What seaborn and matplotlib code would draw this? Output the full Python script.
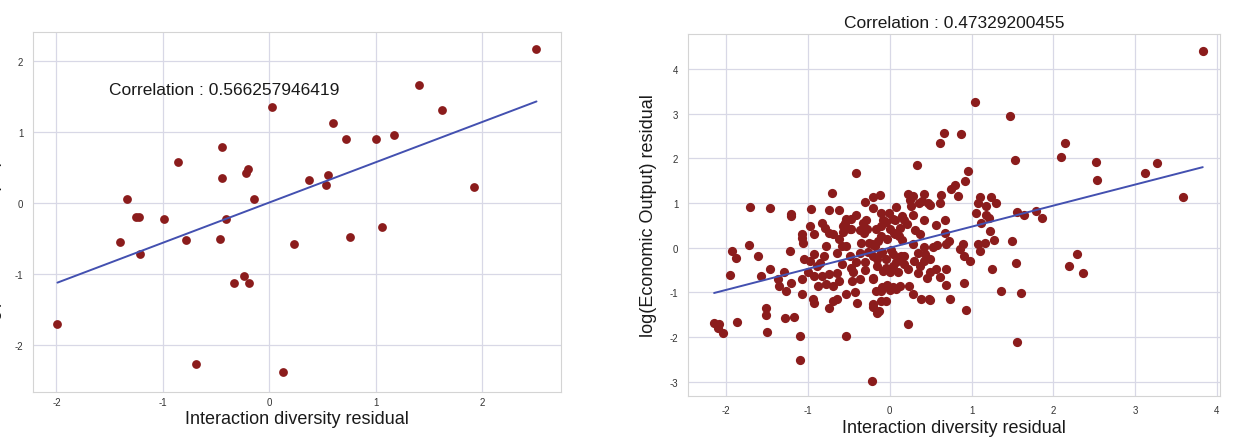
import matplotlib
matplotlib.use("Agg")
import matplotlib.pyplot as plt
import seaborn as sns
import numpy as np

# ------------------------------------------
# data
# ------------------------------------------
# left panel (36 points)
left_x = [2.51, 1.41, 1.62, 0.03, 0.60, 0.72, 1.00, 1.17, -0.44, -0.86,
          -0.44, -0.20, -0.22, 0.37, 0.55, 0.53, 1.92, -1.34, -0.14, -1.25,
          -1.22, -0.99, -0.41, -1.40, -0.78, -0.46, -1.21, 0.23, 0.76, 1.06,
          -0.24, -0.33, -0.19, -1.99, -0.69, 0.13]
left_y = [2.17, 1.66, 1.31, 1.35, 1.13, 0.90, 0.90, 0.96, 0.79, 0.58,
          0.35, 0.48, 0.42, 0.33, 0.39, 0.26, 0.23, 0.06, 0.06, -0.20,
          -0.20, -0.23, -0.23, -0.54, -0.52, -0.51, -0.71, -0.58, -0.48, -0.33,
          -1.02, -1.12, -1.12, -1.70, -2.26, -2.38]

# right panel
right_x = [3.83, 1.04, 1.47, 0.66, 0.61, 0.87, 2.15, 2.09, 1.53, 2.52,
           3.27, 3.12, 2.53, 3.59, 0.33, -0.41, 0.96, 0.92, 0.80, 0.75,
           0.84, 1.79, 1.86, 1.64, 1.56, 1.50, 1.55, 1.61, 1.36, 1.25,
           1.56, 2.29, 2.19, 2.36, 1.27, 1.23, 1.10, 1.24, 1.30, 1.18,
           1.08, 1.06, 1.18, 1.12, 1.21, 1.08, 1.16, 1.10, 0.91, 0.98,
           0.91, 0.93, 0.89, 0.86, 0.73, 0.69, 0.67, 0.67, 0.57, 0.69,
           0.57, 0.61, 0.69, 0.74, 0.63, 0.61, 0.49, 0.53, 0.58, 0.49,
           0.49, 0.49, 0.42, 0.39, 0.28, 0.22, 0.25, 0.26, 0.08, 0.15,
           0.42, 0.28, 0.21, 0.11, 0.37, 0.28, 0.42, 0.35, 0.18, 0.30,
           0.42, 0.17, 0.37, 0.22, 0.35, 0.45, 0.24, 0.28, 0.38, 0.48,
           0.07, 0.22, 0.04, 0.08, 0.36, 0.47, 0.12, 0.31, 0.15, 0.05,
           -0.20, -0.12, -0.30, -0.21, -0.11, -0.01, 0.04, -0.05, -0.11, 0.00,
           0.06, -0.03, -0.11, -0.17, -0.18, -0.11, -0.05, 0.04, -0.21, -0.16,
           -0.08, -0.21, -0.03, -0.11, -0.21, -0.13, -0.11, -0.05, -0.22, -0.29,
           -0.41, -0.48, -0.28, -0.22, -0.30, -0.37, -0.41, -0.45, -0.37, -0.46,
           -0.42, -0.40, -0.54, -0.49, -0.37, -0.32, -0.47, -0.27, -0.16, -0.10,
           0.02, 0.12, -0.15, -0.35, -0.25, -0.05, 0.10, -0.20, -0.10, 0.00,
           -0.17, -0.20, -0.16, 0.06, -0.08, -0.47, -0.30, -0.59, -0.53, -0.57,
           -0.49, -0.57, -0.54, -0.62, -0.74, -0.71, -0.83, -0.79, -0.75, -0.69,
           -0.78, -0.81, -0.65, -0.59, -0.64, -0.62, -0.69, -0.74, -0.83, -0.78,
           -0.88, -0.69, -0.74, -0.65, -0.53, -0.89, -0.93, -0.98, -0.93, -0.93,
           -0.98, -0.96, -0.55, -1.07, -1.06, -1.08, -0.94, -0.93, -1.07, -1.10,
           -1.10, -1.05, -1.00, -1.07, -1.21, -1.22, -1.29, -1.37, -1.36, -1.27,
           -1.21, -1.28, -1.17, -1.46, -1.47, -1.57, -1.52, -1.52, -1.50, -1.71,
           -1.72, -1.61, -1.87, -1.93, -1.88, -1.96, -2.15, -2.09, -2.04, -2.10,
           -1.21, 0.14, 0.43, 0.00, 0.04, 0.12, -0.62, -0.85, 0.18, -0.33]
right_y = [4.39, 3.25, 2.95, 2.57, 2.35, 2.54, 2.33, 2.02, 1.96, 1.92,
           1.89, 1.66, 1.51, 1.13, 1.85, 1.68, 1.71, 1.50, 1.40, 1.31,
           1.16, 0.81, 0.66, 0.72, 0.80, 0.14, -0.34, -1.02, -0.97, -0.47,
           -2.10, -0.15, -0.40, -0.57, 0.18, 0.38, 1.14, 1.14, 0.99, 0.93,
           0.99, 0.78, 0.73, 0.56, 0.66, 0.08, 0.10, -0.08, -0.18, -0.29,
           -0.78, -1.40, 0.09, -0.02, 0.16, 0.09, 0.33, 0.61, 0.51, -0.47,
           -0.47, -0.65, -0.83, -1.14, 1.17, 1.00, 0.96, 0.02, 0.05, -0.26,
           -0.55, -1.16, 1.19, 1.04, 1.16, 1.19, 1.07, 0.93, 0.90, 0.71,
           0.62, 0.73, 0.52, 0.26, 0.30, 0.08, 0.02, -0.11, -0.18, -0.30,
           -0.30, -0.37, -0.41, -0.48, -0.56, -0.67, -0.86, -1.04, -1.14, -1.14,
           -0.93, -1.71, -0.41, -0.33, 0.99, 1.00, 0.45, 0.40, 0.17, 0.32,
           1.13, 1.18, 1.02, 0.89, 0.78, 0.78, 0.65, 0.57, 0.49, 0.41,
           0.30, 0.19, 0.26, 0.41, 0.04, -0.11, -0.26, -0.15, -0.18, -0.41,
           -0.52, -0.67, -0.84, -1.19, -1.26, -1.41, -0.97, -1.19, -2.98, 0.63,
           0.72, 0.65, 0.41, 0.08, -0.33, -0.11, -0.33, -0.54, -0.69, -0.74,
           -1.00, -1.23, -1.04, -0.18, 0.39, 0.32, 0.42, -0.10, -0.25, -0.10,
           -0.05, -0.20, 0.15, 0.10, 0.10, -0.45, -0.55, -0.70, -0.87, -0.95,
           -0.98, -1.32, -1.45, 0.62, 0.62, -0.45, -0.50, 0.04, 0.04, 0.34,
           0.41, 0.49, 0.65, 0.84, 0.84, 1.22, 0.56, 0.43, 0.33, 0.30,
           0.04, -0.18, -0.11, -0.37, -0.56, -0.74, -0.86, -0.59, -0.63, -0.82,
           -0.86, -1.19, -1.34, -1.15, -1.97, -0.41, -0.63, -0.30, -0.15, 0.30,
           0.49, 0.87, 0.56, 0.30, 0.11, 0.22, -1.15, -1.24, -1.04, -1.97,
           -2.52, -0.26, -0.54, -0.71, 0.75, -0.07, -0.54, -0.69, -0.86, -0.97,
           -0.78, -1.58, -1.55, 0.89, -0.47, -0.63, -1.34, -1.51, -1.88, 0.92,
           0.06, -0.19, -1.66, -0.07, -0.22, -0.62, -1.69, -1.71, -1.90, -1.79,
           0.70, -0.18, -0.14, -0.55, -0.88, -0.85, 0.20, -0.35, 0.62, 0.55]

left_corr = "Correlation : 0.566257946419"
right_corr = "Correlation : 0.47329200455"
xlabel = "Interaction diversity residual"
ylabel = "log(Economic Output) residual"

# ------------------------------------------
# style
# ------------------------------------------
sns.set_style("whitegrid")
plt.rcParams['font.family'] = ['Liberation Sans', 'DejaVu Sans']
plt.rcParams['axes.unicode_minus'] = False

dot_color = "#8b1c1c"
line_color = "#4350b0"
grid_color = "#d8d8e6"

fig = plt.figure(figsize=(12.4, 4.39), dpi=100)
ax1 = fig.add_axes([0.0266, 0.1055, 0.4258, 0.8186])
ax2 = fig.add_axes([0.5548, 0.0964, 0.4290, 0.8240])


def draw(ax, x, y, xlim, ylim, xticks, yticks, xpad, label_y, size):
    sns.regplot(x=np.array(x), y=np.array(y), ax=ax, ci=None,
                scatter_kws=dict(s=size, color=dot_color, alpha=1, linewidths=0),
                line_kws=dict(color=line_color, linewidth=1.4))
    ax.set_xlim(*xlim)
    ax.set_ylim(*ylim)
    ax.set_xticks(xticks)
    ax.set_yticks(yticks)
    ax.grid(True, color=grid_color, linewidth=0.9)
    ax.set_axisbelow(True)
    for s in ax.spines.values():
        s.set_color("#d4d4d4")
        s.set_linewidth(0.8)
    ax.tick_params(axis='x', length=0, pad=xpad, labelsize=7, labelcolor="#333333")
    ax.tick_params(axis='y', length=0, pad=7, labelsize=7, labelcolor="#333333")
    ax.set_xlabel(xlabel, fontsize=13, color="#1a1a1a")
    ax.set_ylabel(ylabel, fontsize=13, color="#1a1a1a")
    ax.xaxis.set_label_coords(0.5, label_y)
    ax.yaxis.set_label_coords(-0.058, 0.5)


draw(ax1, left_x, left_y, (-2.22, 2.74), (-2.65, 2.40),
     [-2, -1, 0, 1, 2], [-2, -1, 0, 1, 2], 4, -0.05, 40)
draw(ax2, right_x, right_y, (-2.47, 4.04), (-3.31, 4.78),
     [-2, -1, 0, 1, 2, 3, 4], [-3, -2, -1, 0, 1, 2, 3, 4], 7, -0.065, 44)

ax1.text(-1.51, 1.60, left_corr, fontsize=12.5, color="#1a1a1a",
         ha='left', va='center')
ax2.set_title(right_corr, fontsize=12.5, color="#1a1a1a", pad=5)

fig.savefig("out.png", dpi=100)
